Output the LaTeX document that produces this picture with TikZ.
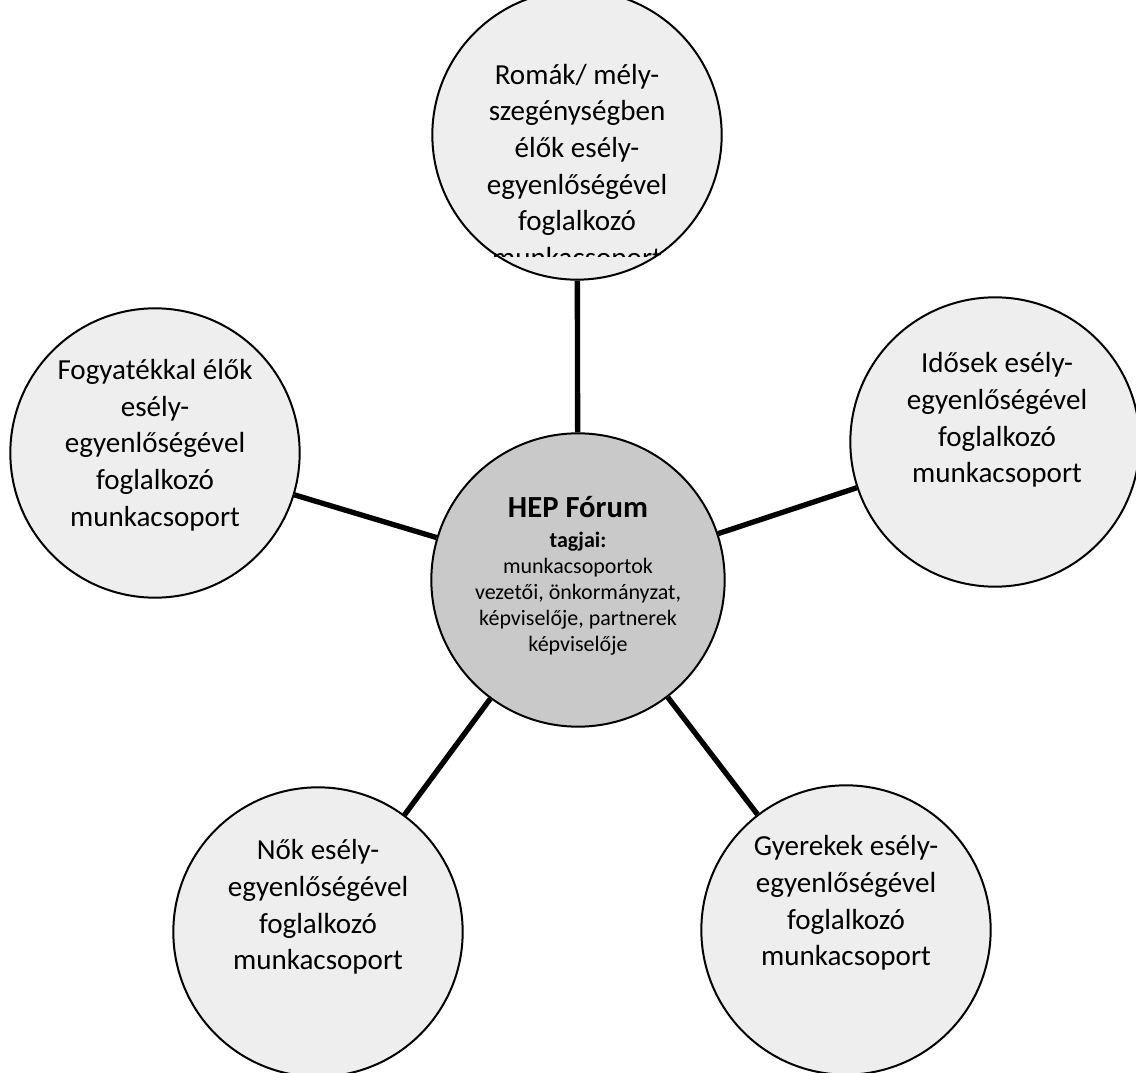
\documentclass[tikz,border=0pt]{standalone}
\usepackage{fontspec}
\setmainfont{Carlito}
\usetikzlibrary{positioning}

\begin{document}
\begin{tikzpicture}[x=0.75pt, y=-0.75pt,
        group/.style={draw, circle, line width=1.5pt, fill=gray!13, minimum size=217pt, inner sep=0pt},
        forum/.style={draw, circle, line width=1.5pt, fill=gray!42, minimum size=220pt, inner sep=0pt},
        grouptext/.style={align=center, font=\fontsize{21.8}{27.5}\selectfont},
        forumtext/.style={align=center, font=\fontsize{16.5}{19.5}\selectfont},
        link/.style={line width=4pt, draw=black}
    ]
        \useasboundingbox (0,0) rectangle (1136,1073);
        \clip (0,0) rectangle (1136,1073);

        \node[forum] (hep) at (578,580) {};
        \node[group] (romak) at (577,135) {};
        \node[group] (fogy) at (155,453) {};
        \node[group] (idosek) at (995,442) {};
        \node[group] (nok) at (318,932) {};
        \node[group] (gyerek) at (846,930) {};

        \draw[link] (hep) -- (romak);
        \draw[link] (hep) -- (fogy);
        \draw[link] (hep) -- (idosek);
        \draw[link] (hep) -- (nok);
        \draw[link] (hep) -- (gyerek);

        \node[forumtext] (hep-t) at (578,576) {
            {\fontsize{23}{28}\selectfont\bfseries HEP Fórum}\\[3pt]
            \textbf{tagjai:}\\
            munkacsoportok\\
            vezetői, önkormányzat,\\
            képviselője, partnerek\\
            képviselője
        };

        % the last line is cut off in the original
        \begin{scope}
            \clip (430,0) rectangle (725,257);
            \node[grouptext] (romak-t) at (577,168) {Romák/ mély-\\szegénységben\\élők esély-\\egyenlőségével\\foglalkozó\\munkacsoport};
        \end{scope}

        \node[grouptext] (fogy-t) at (155,445) {Fogyatékkal élők\\esély-\\egyenlőségével\\foglalkozó\\munkacsoport};
        \node[grouptext] (idosek-t) at (997,420) {Idősek esély-\\egyenlőségével\\foglalkozó\\munkacsoport};
        \node[grouptext] (nok-t) at (318,907) {Nők esély-\\egyenlőségével\\foglalkozó\\munkacsoport};
        \node[grouptext] (gyerek-t) at (846,903) {Gyerekek esély-\\egyenlőségével\\foglalkozó\\munkacsoport};
    \end{tikzpicture}
\end{document}
